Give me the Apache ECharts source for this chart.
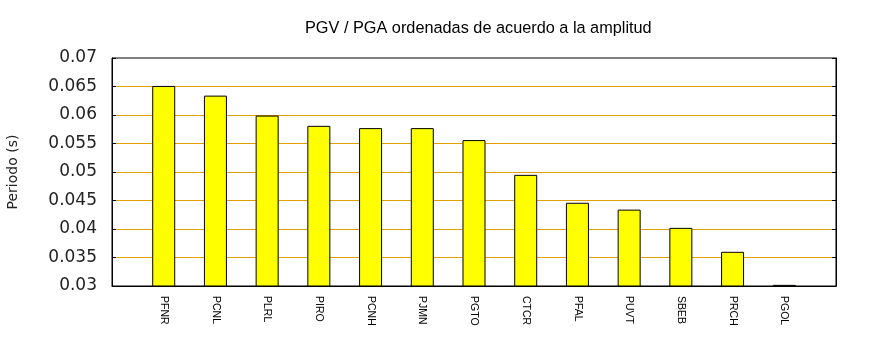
<!DOCTYPE html>
<html>
<head>
<meta charset="utf-8">
<script src="https://cdn.jsdelivr.net/npm/echarts@6/dist/echarts.min.js"></script>
<style>
  html, body { margin: 0; padding: 0; background: #fff; }
  #chart { width: 870px; height: 350px; }
</style>
</head>
<body>
<div id="chart"></div>
<script>
// Stations sorted by PGV/PGA period
const stations = ['PFNR', 'PCNL', 'PLRL', 'PIRO', 'PCNH', 'PJMN', 'PGTO', 'CTCR', 'PFAL', 'PUVT', 'SBEB', 'PRCH', 'PGOL'];
const periods = [0.0651, 0.0634, 0.0599, 0.0581, 0.0577, 0.0577, 0.0556, 0.0495, 0.0446, 0.0434, 0.0402, 0.0360, 0.0302];
const yTicks = [0.03, 0.035, 0.04, 0.045, 0.05, 0.055, 0.06, 0.065, 0.07];

const chart = echarts.init(document.getElementById('chart'), null, { renderer: 'canvas' });

const yMin = yTicks[0];
const yMax = yTicks[yTicks.length - 1];
const yStep = yTicks[1] - yTicks[0];
const labelFont = '"DejaVu Sans", sans-serif';

chart.setOption({
  animation: false,
  backgroundColor: '#fff',
  title: {
    text: 'PGV / PGA ordenadas de acuerdo a la amplitud',
    left: 300,
    top: 16,
    textStyle: { fontFamily: '"Liberation Sans", Arial, sans-serif', fontSize: 16.3, fontWeight: 'normal', color: '#000' }
  },
  grid: {
    left: 112, right: 34, top: 58, bottom: 64,
    containLabel: false,
    outerBoundsMode: 'none',
    show: true, borderColor: '#000', borderWidth: 1, backgroundColor: 'transparent'
  },
  xAxis: {
    type: 'value',
    min: -1,
    max: stations.length,
    interval: 1,
    axisLine: { show: true, onZero: false, lineStyle: { color: '#000', width: 1 } },
    axisTick: { show: false },
    splitLine: { show: false },
    axisLabel: {
      rotate: -90,
      margin: 10,
      fontFamily: '"Liberation Sans", Arial, sans-serif',
      fontSize: 10.5,
      color: '#000',
      showMinLabel: true,
      showMaxLabel: true,
      formatter: v => (stations[v] !== undefined ? stations[v] : '')
    }
  },
  yAxis: [
    {
      type: 'value',
      min: yMin,
      max: yMax,
      interval: yStep,
      name: 'Periodo (s)',
      nameLocation: 'middle',
      nameGap: 92,
      nameTextStyle: { fontFamily: labelFont, fontSize: 14, color: '#222' },
      axisLine: { show: true, onZero: false, lineStyle: { color: '#000', width: 1 } },
      axisTick: { show: true, inside: true, length: 4, lineStyle: { color: '#000' } },
      axisLabel: {
        margin: 15,
        fontFamily: labelFont,
        fontSize: 17,
        color: '#222',
        formatter: v => String(parseFloat(v.toFixed(4)))
      },
      splitLine: { show: true, showMinLine: false, showMaxLine: false, lineStyle: { color: '#e0a000', width: 1 } }
    },
    {
      type: 'value',
      position: 'right',
      min: yMin,
      max: yMax,
      interval: yStep,
      axisLine: { show: true, onZero: false, lineStyle: { color: '#000', width: 1 } },
      axisTick: { show: true, inside: true, length: 4, lineStyle: { color: '#000' } },
      axisLabel: { show: false },
      splitLine: { show: false }
    }
  ],
  series: [
    {
      type: 'bar',
      yAxisIndex: 0,
      barWidth: 23,
      clip: true,
      itemStyle: { color: '#ffff00', borderColor: '#000', borderWidth: 1 },
      data: periods.map((v, i) => [i, v])
    }
  ]
});
</script>
</body>
</html>
